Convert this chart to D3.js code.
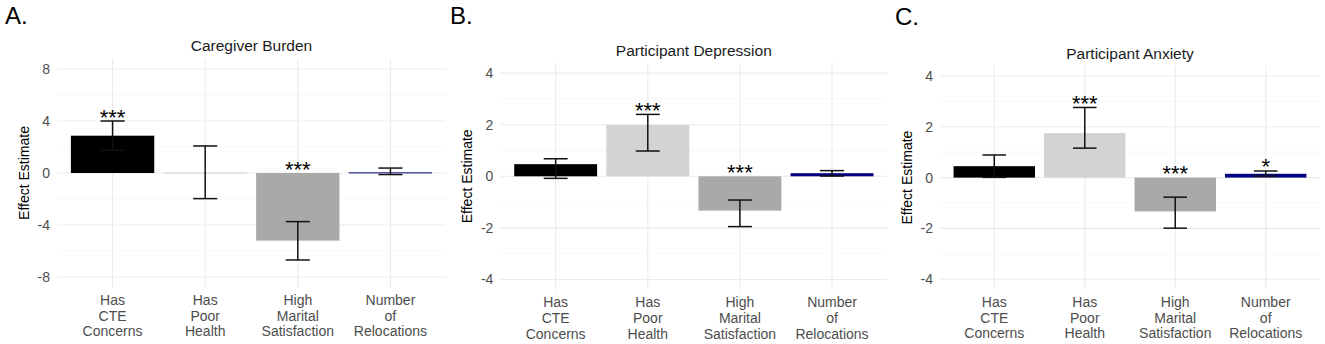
<!DOCTYPE html>
<html>
<head>
<meta charset="utf-8">
<script src="https://cdn.jsdelivr.net/npm/d3@7"></script>
<style>
  body { margin: 0; background: #fff; }
  svg { display: block; font-family: "Liberation Sans", Arial, sans-serif; }
</style>
</head>
<body>
<div id="chart"></div>
<script>
// data
const categories = ["Has CTE Concerns", "Has Poor Health", "High Marital Satisfaction", "Number of Relocations"];
const categoryLines = [["Has", "CTE", "Concerns"], ["Has", "Poor", "Health"], ["High", "Marital", "Satisfaction"], ["Number", "of", "Relocations"]];
const barColors = ["#000000", "#d3d3d3", "#a9a9a9", "#000080"];

const panelTitles = ["Caregiver Burden", "Participant Depression", "Participant Anxiety"];
const panelLetters = ["A.", "B.", "C."];

const burdenEst = [2.87, 0.03, -5.2, 0.05];
const burdenLow = [1.74, -1.97, -6.69, -0.12];
const burdenHigh = [4.0, 2.08, -3.74, 0.38];
const burdenStars = ["***", "", "***", ""];

const depressionEst = [0.47, 1.99, -1.33, 0.12];
const depressionLow = [-0.08, 0.98, -1.95, 0.01];
const depressionHigh = [0.68, 2.40, -0.92, 0.22];
const depressionStars = ["", "***", "***", ""];

const anxietyEst = [0.45, 1.75, -1.33, 0.15];
const anxietyLow = [0.01, 1.16, -1.99, 0.06];
const anxietyHigh = [0.89, 2.76, -0.77, 0.26];
const anxietyStars = ["", "***", "***", "*"];

const yLimits = [[-8, 8], [-4, 4], [-4, 4]];
const yTicks = [[-8, -4, 0, 4, 8], [-4, -2, 0, 2, 4], [-4, -2, 0, 2, 4]];
const yMinor = [[-6, -2, 2, 6], [-3, -1, 1, 3], [-3, -1, 1, 3]];

// layout (pixel boxes of the three panels)
const layout = [
  {left: 57, right: 446, top: 58.6, bottom: 287.4, lx: 5, ly: 23.5},
  {left: 500.4, right: 887.3, top: 62.8, bottom: 289.8, lx: 450, ly: 23.5},
  {left: 940, right: 1320, top: 65.8, bottom: 289.4, lx: 895, ly: 25}
];

const panels = [
  {est: burdenEst, low: burdenLow, high: burdenHigh, stars: burdenStars},
  {est: depressionEst, low: depressionLow, high: depressionHigh, stars: depressionStars},
  {est: anxietyEst, low: anxietyLow, high: anxietyHigh, stars: anxietyStars}
];

const W = 1325, H = 344;
const svg = d3.select("#chart").append("svg")
    .attr("width", W)
    .attr("height", H);
svg.append("rect").attr("width", W).attr("height", H).attr("fill", "#fff");

panels.forEach((p, i) => {
  let L = layout[i];
  let lim = yLimits[i];
  let pad = (lim[1] - lim[0]) * 0.05;

  let x = d3.scalePoint()
      .domain(categories)
      .range([L.left, L.right])
      .padding(0.6);
  let step = x.step();

  let y = d3.scaleLinear()
      .domain([lim[0] - pad, lim[1] + pad])
      .range([L.bottom, L.top]);

  let rows = categories.map((c, j) => ({
    cat: c, lines: categoryLines[j], est: p.est[j], low: p.low[j], high: p.high[j],
    star: p.stars[j], color: barColors[j]
  }));

  let g = svg.append("g");

  // grid
  g.append("g").selectAll("line")
    .data(yMinor[i])
    .join("line")
    .attr("x1", L.left).attr("x2", L.right)
    .attr("y1", d => y(d)).attr("y2", d => y(d))
    .attr("stroke", "#f2f2f2").attr("stroke-width", 0.6);
  g.append("g").selectAll("line")
    .data(yTicks[i])
    .join("line")
    .attr("x1", L.left).attr("x2", L.right)
    .attr("y1", d => y(d)).attr("y2", d => y(d))
    .attr("stroke", "#ebebeb").attr("stroke-width", 1.1);
  g.append("g").selectAll("line")
    .data(categories)
    .join("line")
    .attr("x1", d => x(d)).attr("x2", d => x(d))
    .attr("y1", L.top).attr("y2", L.bottom)
    .attr("stroke", "#ebebeb").attr("stroke-width", 1.1);

  // bars
  g.append("g").selectAll("rect")
    .data(rows)
    .join("rect")
    .attr("x", d => x(d.cat) - step * 0.45)
    .attr("width", step * 0.9)
    .attr("y", d => y(Math.max(0, d.est)))
    .attr("height", d => Math.max(1, Math.abs(y(d.est) - y(0))))
    .attr("fill", d => d.color);

  // error bars
  let eb = g.append("g")
      .attr("stroke", "#111")
      .attr("stroke-width", 1.5)
      .attr("fill", "none");
  let cap = step * 0.13;
  rows.forEach(d => {
    let cx = x(d.cat);
    eb.append("line").attr("x1", cx).attr("x2", cx).attr("y1", y(d.low)).attr("y2", y(d.high));
    eb.append("line").attr("x1", cx - cap).attr("x2", cx + cap).attr("y1", y(d.low)).attr("y2", y(d.low));
    eb.append("line").attr("x1", cx - cap).attr("x2", cx + cap).attr("y1", y(d.high)).attr("y2", y(d.high));
  });

  // significance stars
  g.append("g").selectAll("text")
    .data(rows.filter(d => d.star))
    .join("text")
    .attr("x", d => x(d.cat))
    .attr("y", d => y(Math.max(0, d.high)) + 3.5)
    .attr("text-anchor", "middle")
    .attr("font-size", 22)
    .attr("fill", "#000")
    .text(d => d.star);

  // y tick labels
  g.append("g").selectAll("text")
    .data(yTicks[i])
    .join("text")
    .attr("x", L.left - 7)
    .attr("y", d => y(d))
    .attr("dy", "0.35em")
    .attr("text-anchor", "end")
    .attr("font-size", 14)
    .attr("fill", "#4d4d4d")
    .text(d => d);

  // x labels
  let xl = g.append("g").selectAll("text")
    .data(rows)
    .join("text")
    .attr("text-anchor", "middle")
    .attr("font-size", 14)
    .attr("fill", "#4d4d4d");
  xl.selectAll("tspan")
    .data(d => d.lines.map(t => ({t, cx: x(d.cat)})))
    .join("tspan")
    .attr("x", d => d.cx)
    .attr("y", (d, k) => L.bottom + 17.5 + k * 15.6)
    .text(d => d.t);

  // y axis title
  g.append("text")
    .attr("transform", `translate(${L.left - 33},${(L.top + L.bottom) / 2}) rotate(-90)`)
    .attr("text-anchor", "middle")
    .attr("dy", "0.35em")
    .attr("font-size", 14)
    .attr("fill", "#000")
    .text("Effect Estimate");

  // panel title
  g.append("text")
    .attr("x", (L.left + L.right) / 2)
    .attr("y", L.top - 12.7)
    .attr("dy", "0.35em")
    .attr("text-anchor", "middle")
    .attr("font-size", 15.5)
    .attr("fill", "#1a1a1a")
    .text(panelTitles[i]);

  // panel letter
  g.append("text")
    .attr("x", L.lx)
    .attr("y", L.ly)
    .attr("font-size", 24)
    .attr("fill", "#000")
    .text(panelLetters[i]);
});
</script>
</body>
</html>
